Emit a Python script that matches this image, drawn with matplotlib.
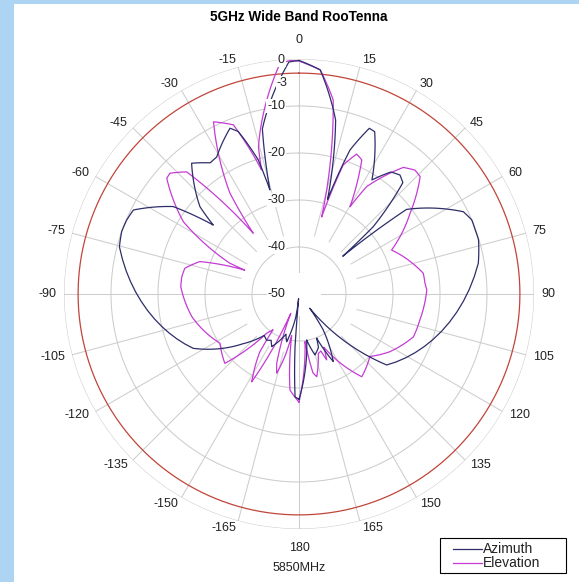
import numpy as np
import matplotlib.pyplot as plt
from matplotlib.patches import Rectangle
from matplotlib.lines import Line2D

plt.rcParams['font.family'] = ['Liberation Sans', 'DejaVu Sans']

# radiation pattern (angle in deg, level in dB)
az_deg = [-180, -177.8, -176.2, -175.7, -175, -172, -168.1, -165.5, -162, -157.6, -156.4,
          -152.6, -149, -144.9, -140, -137.6, -134.3, -131.5, -127.9, -123, -120.3, -117.2,
          -110.6, -104.9, -98.7, -94.6, -88.6, -84.3, -79.2, -75.3, -70.6, -66.8, -63.1,
          -59.4, -57.1, -55.2, -53.8, -53, -51.9, -51.2, -49.4, -48.6, -47.4, -45.9, -43.9,
          -42.2, -39.4, -36.8, -34.1, -31, -28.7, -26.7, -22.6, -20.5, -18.4, -17.2, -16.9,
          -16.2, -15.6, -15, -14, -12.5, -11.2, -8.8, -6.5, -4.8, -2.5, 0, 2.7, 5.4, 7.9,
          10, 11.9, 13.7, 14.8, 16, 16.8, 17.8, 19.5, 21.3, 23, 25, 28.4, 30, 32.6, 35, 37,
          40.3, 43, 45.3, 47.8, 49.2, 49.4, 49.7, 51.8, 54.4, 57.5, 60.5, 63.4, 66.8, 70,
          73.2, 76.3, 80.3, 84.4, 88.7, 93.2, 98.3, 102.5, 107.8, 113, 120, 125.1, 129,
          131.6, 134.1, 136.5, 139.7, 143, 146, 148, 153.1, 156, 158.2, 160, 163, 165.3,
          168, 170.5, 174.2, 176, 178.4, 180]
az_db = [-27.6, -28.1, -31.7, -38.8, -49, -45, -40.7, -39.5, -41, -39.4, -38.1,
         -37.4, -38.5, -38, -38.5, -37.7, -34.5, -34, -30, -28, -26.4, -24.7,
         -22.2, -20.1, -17.9, -16.1, -14.4, -12.8, -11.2, -10.5, -10, -10.1, -10.5,
         -12.4, -14.8, -17.4, -20.4, -22.7, -25.1, -26.6, -24.1, -21.9, -19.4, -17.2, -15.3,
         -14.4, -14, -14.8, -16.3, -16, -15.1, -12.5, -11.8, -13.1, -14.7, -17.2, -20.2,
         -24, -27, -22, -18.5, -14, -10.7, -5.5, -3, -1.5, -0.6, -0.3, -0.85, -2.1, -4.7,
         -8.1, -12.2, -18, -22.7, -27, -29, -24, -17.5, -12.5, -11.7, -11.9, -15.1, -18.5, -21.2, -19, -17.5,
         -16.8, -17.6, -20.6, -28.7, -37.7, -33, -26, -20.9, -17.5, -14.4, -12.3, -10.9, -10, -10.1,
         -10.1, -10.4, -11.3, -12.4, -13.6, -15, -16.5, -17.8, -19.2, -20.5, -21.9, -23.7, -26,
         -28.9, -32.9, -37, -40.9, -46.2, -40.8, -38.5, -33.9, -37, -39.9, -37.9, -37, -36.6,
         -38, -40.1, -35.2, -31.7, -28.9, -27.6]

el_deg = [-180, -174.6, -172, -170, -167, -164.3, -162.2, -157, -152.5, -151.8, -151.7,
          -148.5, -146, -144, -140.6, -137, -135.8, -133.1, -126.5, -121.9, -118.2, -113.3,
          -106.6, -101.9, -96.4, -91.3, -86.5, -81.6, -77.3, -74.3, -71.9, -70.3, -67.2,
          -66.3, -66, -61.9, -61.3, -60.1, -58, -57.1, -54.9, -51.8, -48.8, -46.9, -44.6,
          -42.6, -41.5, -41.1, -41, -40.7, -40.1, -38.5, -37, -35.8, -34.4, -32.9, -31,
          -28.7, -26.4, -23.6, -21.2, -19.1, -18.6, -17.5, -16.8, -15.4, -13.7, -11.6, -9.5,
          -7.4, -4.7, -2.2, 0, 2.7, 5.4, 7.3, 10, 12.6, 14.4, 15.4, 16.4, 17.8, 18.9, 20.4,
          22.4, 25.1, 27.8, 29.5, 30.3, 32.2, 33.5, 36.1, 39.5, 43.1, 45.9, 49.3, 52.4, 54,
          56.3, 58.7, 61.7, 64.6, 68.7, 71.9, 75.8, 80.5, 85.1, 88.2, 92.7, 97.3, 102.1,
          107, 110.5, 116.8, 122.4, 128.9, 131.4, 135.7, 142.8, 147, 151.6, 153, 155, 157.2,
          159, 162, 165, 167.9, 170, 171.7, 172.8, 176.7, 180]
el_db = [-27, -29.5, -35, -41, -36, -32.5, -34.5, -45.5, -38.2, -32.4, -28.8,
         -29.4, -35, -40.6, -39.3, -33.8, -28.9, -28.4, -30, -30.2, -29.3, -27.1,
         -26.9, -26.7, -25.8, -25.4, -24.8, -24.8, -25.1, -25.9, -27.8, -30.6, -34.1,
         -37.4, -33.9, -30.1, -26.8, -24.1, -21, -19, -16.4, -14.2, -12.6, -12.4, -12.9,
         -14.7, -17.1, -20.1, -23.4, -26.4, -29.4, -32.1, -33.8, -29.7, -24, -17.7, -13.4,
         -10.2, -9.1, -9.8, -11.4, -13.8, -18.4, -21, -22.4, -17.5, -12.6, -7.9, -3.8,
         -1.9, -0.75, -0.3, -0.45, -0.85, -2.1, -3.4, -8.1, -15, -22, -27.8, -32.9, -23.8, -21, -18.8,
         -17.8, -18.5, -21, -25.1, -28.5, -23, -20.1, -17.1, -15.1, -13.9, -14.1, -16.1, -18.4, -20.8,
         -24.2, -26.5, -28, -28.2, -26.2, -24.4, -23.4, -23.2, -23.1, -22.8, -23.2, -23.3, -23.7,
         -23.8, -24, -25.1, -27.1, -28.8, -29.9, -28.4, -27.9, -30, -31.6, -36, -37.5, -34.8,
         -37, -36.7, -33, -32, -33, -38.7, -39.8, -27.8, -27]

series_names = ['Azimuth', 'Elevation']
series_colors = ['#2e2e6a', '#c43cd4']

ring_db = [-40, -30, -20, -10, 0]
ring_labels = ['-50', '-40', '-30', '-20', '-10', '-3', '0']
ring_label_db = [-50, -40, -30, -20, -10, -3, 0]
angle_ticks = [a for a in range(-165, 181, 15) if a != 0]

W, H = 579, 582
fig = plt.figure(figsize=(W / 100, H / 100), dpi=100)
fig.patch.set_facecolor('white')
# light blue frame on the left and top
fig.patches.append(Rectangle((0, 0), 14 / W, 1, transform=fig.transFigure,
                             facecolor='#add4f2', edgecolor='none', zorder=0))
fig.patches.append(Rectangle((0, 1 - 4 / H), 1, 4 / H, transform=fig.transFigure,
                             facecolor='#add4f2', edgecolor='none', zorder=0))

cx, cy, R = 299, H - 294, 235
ax = fig.add_axes([(cx - R) / W, (cy - R) / H, 2 * R / W, 2 * R / H], projection='polar')
ax.set_theta_zero_location('N')
ax.set_theta_direction(-1)
ax.set_ylim(-50, 0)
ax.grid(False)
ax.set_xticks([])
ax.set_yticks([])
ax.spines['polar'].set_visible(False)
ax.set_facecolor('none')

grid_c = '#cdcdcd'
th = np.linspace(0, 2 * np.pi, 721)
for r in ring_db:
    ax.plot(th, np.full_like(th, r), color=grid_c, lw=0.75, zorder=1)
ax.plot(th, np.full_like(th, -3), color='#c0453a', lw=0.9, zorder=2)

for a in range(0, 360, 15):
    r0 = -45.3 if a % 90 == 0 else -37.2
    ax.plot([np.deg2rad(a)] * 2, [r0, 0], color=grid_c, lw=0.75, zorder=1)

for deg, db, c, z in [(az_deg, az_db, series_colors[0], 4), (el_deg, el_db, series_colors[1], 3)]:
    ln, = ax.plot(np.deg2rad(deg), db, color=c, lw=0.9, zorder=z)
    ln.get_path()._interpolation_steps = 12   # draw segments as polar arcs

for a in angle_ticks:
    if a == 180:
        ax.text(np.pi, 2.77, '180', ha='center', va='top', fontsize=9, color='#222222',
                clip_on=False)
        continue
    ha = 'left' if a > 0 else 'right'
    ax.text(np.deg2rad(a), 1.5, str(a), ha=ha, va='center', fontsize=9, color='#222222',
            clip_on=False)
ax.text(0, 2.77, '0', ha='center', va='bottom', fontsize=9, color='#222222', clip_on=False)

for lab, r in zip(ring_labels, ring_label_db):
    dy = -10 if lab == '-3' else (-1 if lab == '0' else 0)
    ax.annotate(lab, xy=(0, r), xytext=(-14 if lab != '-3' else -12, dy),
                textcoords='offset pixels', ha='right', va='center', fontsize=9,
                color='#222222', zorder=5,
                bbox=dict(boxstyle='square,pad=0.05', fc='white', ec='none'))

fig.text(cx / W, 1 - 17 / H, '5GHz Wide Band RooTenna', ha='center', va='center',
         fontsize=9.8, fontweight='bold')
fig.text(cx / W, 1 - 568 / H, '5850MHz', ha='center', va='center', fontsize=9,
         color='#222222')

# legend box drawn by hand to match the original placement
fig.patches.append(Rectangle((440 / W, 1 - 573 / H), 126 / W, 35 / H, transform=fig.transFigure,
                             facecolor='white', edgecolor='black', lw=0.8, zorder=5))
for i, (name, c) in enumerate(zip(series_names, series_colors)):
    y = 1 - (549 + 14 * i) / H
    fig.add_artist(Line2D([453 / W, 482 / W], [y, y], color=c, lw=0.9, zorder=6))
    fig.text(483 / W, y, name, ha='left', va='center', fontsize=10, color='#222222', zorder=6)

fig.savefig('out.png', dpi=100)
